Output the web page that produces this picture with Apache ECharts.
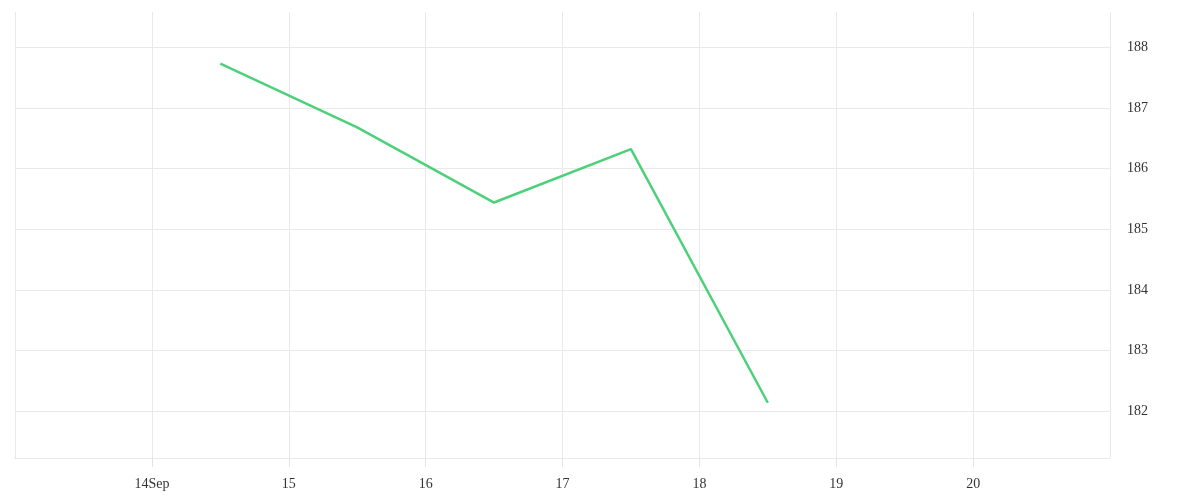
<!DOCTYPE html>
<html>
<head>
<meta charset="utf-8">
<script src="https://cdn.jsdelivr.net/npm/echarts@6/dist/echarts.min.js"></script>
<style>
  html, body { margin: 0; padding: 0; background: #fff; }
  #chart { width: 1200px; height: 500px; }
</style>
</head>
<body>
<div id="chart"></div>
<script>
const DAY = 86400000;
// mid-day points, Sep 14..18 (UTC)
const dates = ['2023-09-14T12:00:00Z', '2023-09-15T12:00:00Z', '2023-09-16T12:00:00Z', '2023-09-17T12:00:00Z', '2023-09-18T12:00:00Z'];
const prices = [187.73, 186.68, 185.44, 186.32, 182.14];
const xStart = '2023-09-13T00:00:00Z';
const xEnd = '2023-09-21T00:00:00Z';
const monthNames = ['Jan', 'Feb', 'Mar', 'Apr', 'May', 'Jun', 'Jul', 'Aug', 'Sep', 'Oct', 'Nov', 'Dec'];

const chart = echarts.init(document.getElementById('chart'));

const gridColor = '#e9e9e9';
const labelStyle = { color: '#333', fontFamily: 'Liberation Serif', fontSize: 14 };

const option = {
    backgroundColor: '#fff',
    animation: false,
    grid: { left: 15, right: 90, top: 12, bottom: 42 },
    xAxis: {
        type: 'value',
        min: Date.parse(xStart),
        max: Date.parse(xEnd),
        interval: DAY,
        axisLine: { show: true, lineStyle: { color: gridColor } },
        axisTick: { show: true, inside: false, length: 9, lineStyle: { color: '#e4e4e4', width: 1 } },
        splitLine: { show: true, lineStyle: { color: gridColor } },
        axisLabel: {
            ...labelStyle,
            margin: 19,
            showMinLabel: false,
            showMaxLabel: false,
            formatter: function (v) {
                const d = new Date(v);
                const day = d.getUTCDate();
                // first visible day carries the month name
                if (day === 14) return day + monthNames[d.getUTCMonth()];
                return String(day);
            }
        }
    },
    yAxis: {
        type: 'value',
        position: 'right',
        min: 181.23,
        max: 188.58,
        axisLine: { show: false },
        axisTick: { show: false },
        splitLine: { show: true, showMinLine: false, showMaxLine: false, lineStyle: { color: gridColor } },
        axisLabel: {
            ...labelStyle,
            margin: 17,
            showMinLabel: false,
            showMaxLabel: false
        }
    },
    series: [
        {
            type: 'line',
            data: dates.map((d, i) => [Date.parse(d), prices[i]]),
            showSymbol: false,
            lineStyle: { color: '#4cd17a', width: 2.5 },
            itemStyle: { color: '#4cd17a' }
        }
    ]
};
chart.setOption(option);
</script>
</body>
</html>
